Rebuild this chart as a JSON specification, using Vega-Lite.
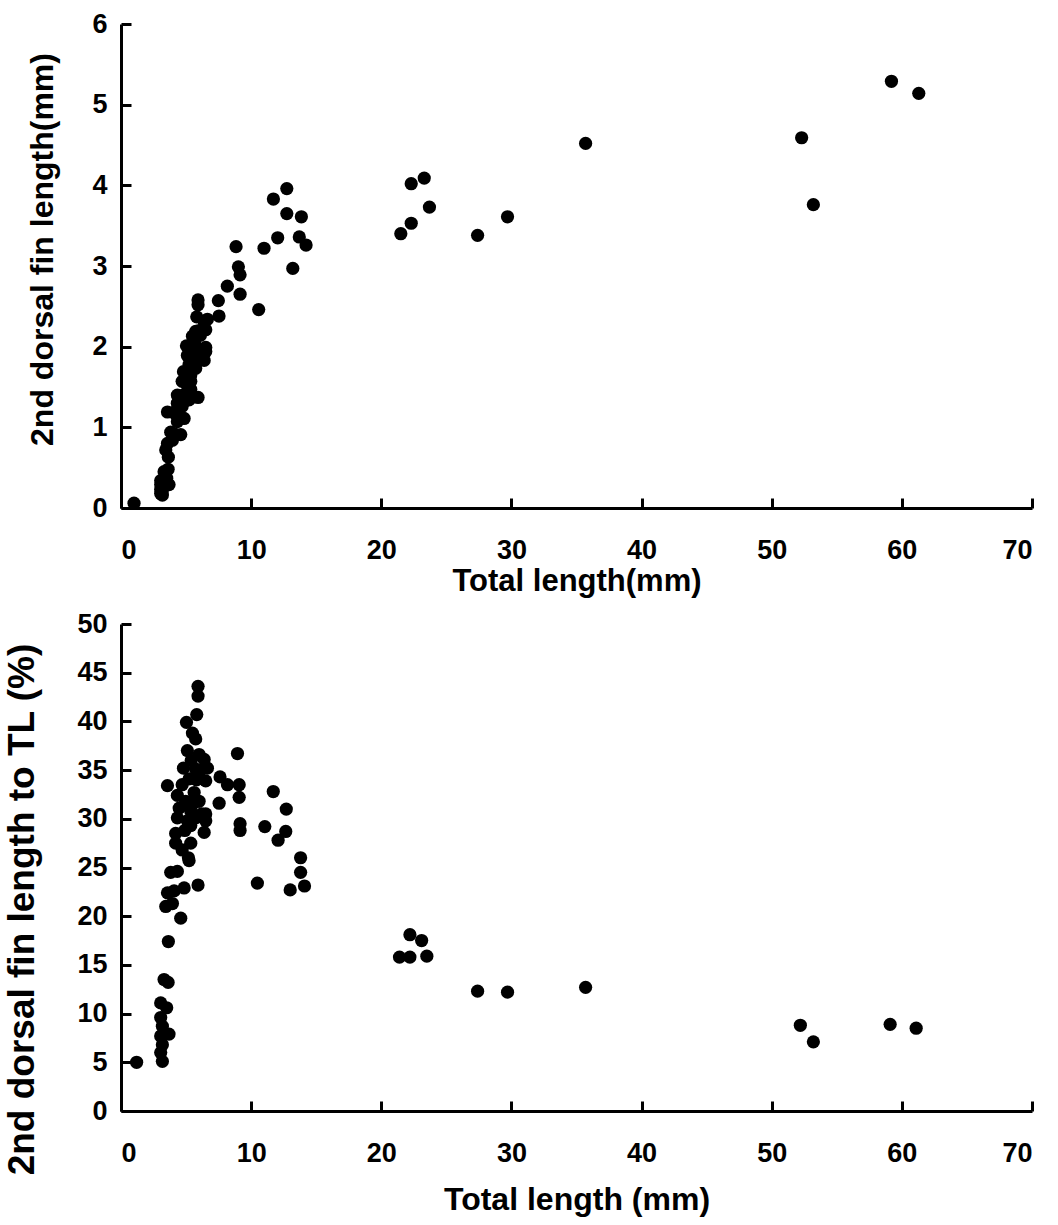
{
  "$schema": "https://vega.github.io/schema/vega-lite/v6.json",
  "background": "white",
  "padding": {"left": 3, "top": 10, "right": 5, "bottom": 5},
  "bounds": "flush",
  "spacing": 116,
  "config": {
    "view": {"stroke": null},
    "font": "Liberation Sans",
    "axis": {
      "grid": false,
      "domainColor": "black",
      "domainWidth": 3,
      "tickColor": "black",
      "tickWidth": 3,
      "tickSize": -10,
      "labelFont": "Liberation Sans",
      "labelFontWeight": "bold",
      "labelFontSize": 27,
      "labelColor": "black",
      "titleFont": "Liberation Sans",
      "titleFontWeight": "bold",
      "titleColor": "black"
    }
  },
  "datasets": {
    "top": [
      {"TL": 1.0, "fin": 0.06},
      {"TL": 3.18, "fin": 0.16}, {"TL": 3.05, "fin": 0.18}, {"TL": 3.18, "fin": 0.22}, {"TL": 3.05, "fin": 0.23},
      {"TL": 3.69, "fin": 0.29}, {"TL": 3.18, "fin": 0.28}, {"TL": 3.05, "fin": 0.29}, {"TL": 3.51, "fin": 0.37},
      {"TL": 3.05, "fin": 0.34}, {"TL": 3.31, "fin": 0.45}, {"TL": 3.62, "fin": 0.48}, {"TL": 3.64, "fin": 0.63},
      {"TL": 4.59, "fin": 0.91}, {"TL": 3.44, "fin": 0.72}, {"TL": 3.95, "fin": 0.84}, {"TL": 3.57, "fin": 0.8},
      {"TL": 4.08, "fin": 0.92}, {"TL": 4.85, "fin": 1.11}, {"TL": 5.92, "fin": 1.37}, {"TL": 3.82, "fin": 0.94},
      {"TL": 4.33, "fin": 1.07}, {"TL": 5.23, "fin": 1.34}, {"TL": 5.92, "fin": 2.58}, {"TL": 5.92, "fin": 2.52},
      {"TL": 5.82, "fin": 2.37}, {"TL": 5.03, "fin": 2.01}, {"TL": 5.49, "fin": 2.13}, {"TL": 5.74, "fin": 2.19},
      {"TL": 5.1, "fin": 1.89}, {"TL": 6.0, "fin": 2.2}, {"TL": 6.39, "fin": 2.31}, {"TL": 4.8, "fin": 1.69},
      {"TL": 5.74, "fin": 2.01}, {"TL": 6.64, "fin": 2.34}, {"TL": 3.57, "fin": 1.19}, {"TL": 5.23, "fin": 1.78},
      {"TL": 6.51, "fin": 2.21}, {"TL": 4.33, "fin": 1.4}, {"TL": 5.62, "fin": 1.84}, {"TL": 4.97, "fin": 1.58},
      {"TL": 6.0, "fin": 1.91}, {"TL": 4.47, "fin": 1.39}, {"TL": 5.36, "fin": 1.65}, {"TL": 6.51, "fin": 1.99},
      {"TL": 4.33, "fin": 1.3}, {"TL": 5.74, "fin": 1.73}, {"TL": 6.51, "fin": 1.94}, {"TL": 6.39, "fin": 1.83},
      {"TL": 4.2, "fin": 1.2}, {"TL": 5.36, "fin": 1.57}, {"TL": 4.2, "fin": 1.16}, {"TL": 5.36, "fin": 1.47},
      {"TL": 5.18, "fin": 1.35}, {"TL": 4.7, "fin": 1.26}, {"TL": 4.9, "fin": 1.41}, {"TL": 5.5, "fin": 1.73},
      {"TL": 5.8, "fin": 1.97}, {"TL": 5.4, "fin": 1.94}, {"TL": 4.7, "fin": 1.57}, {"TL": 6.1, "fin": 2.14},
      {"TL": 5.1, "fin": 1.52}, {"TL": 6.2, "fin": 1.89},
      {"TL": 7.48, "fin": 2.57}, {"TL": 7.53, "fin": 2.38}, {"TL": 8.17, "fin": 2.75}, {"TL": 8.84, "fin": 3.24},
      {"TL": 9.02, "fin": 2.99}, {"TL": 9.15, "fin": 2.89}, {"TL": 9.15, "fin": 2.65}, {"TL": 10.58, "fin": 2.46},
      {"TL": 10.99, "fin": 3.22}, {"TL": 11.71, "fin": 3.83}, {"TL": 12.04, "fin": 3.35}, {"TL": 12.74, "fin": 3.96},
      {"TL": 12.74, "fin": 3.65}, {"TL": 13.2, "fin": 2.97}, {"TL": 13.7, "fin": 3.36}, {"TL": 13.86, "fin": 3.61},
      {"TL": 14.22, "fin": 3.26}, {"TL": 21.5, "fin": 3.4}, {"TL": 22.3, "fin": 3.53}, {"TL": 22.3, "fin": 4.02},
      {"TL": 23.3, "fin": 4.09}, {"TL": 23.7, "fin": 3.73}, {"TL": 27.4, "fin": 3.38}, {"TL": 29.7, "fin": 3.61},
      {"TL": 35.7, "fin": 4.52}, {"TL": 52.3, "fin": 4.59}, {"TL": 53.2, "fin": 3.76}, {"TL": 59.2, "fin": 5.29},
      {"TL": 61.3, "fin": 5.14}
    ],
    "bottom": [
      {"TL": 1.2, "pct": 5.0}, {"TL": 3.18, "pct": 5.1}, {"TL": 3.05, "pct": 6.0}, {"TL": 3.18, "pct": 6.8},
      {"TL": 3.05, "pct": 7.7}, {"TL": 3.69, "pct": 7.9}, {"TL": 3.18, "pct": 8.7}, {"TL": 3.05, "pct": 9.6},
      {"TL": 3.51, "pct": 10.6}, {"TL": 3.05, "pct": 11.1}, {"TL": 3.31, "pct": 13.5}, {"TL": 3.62, "pct": 13.2},
      {"TL": 3.64, "pct": 17.4}, {"TL": 4.59, "pct": 19.8}, {"TL": 3.44, "pct": 21.0}, {"TL": 3.95, "pct": 21.3},
      {"TL": 3.57, "pct": 22.4}, {"TL": 4.08, "pct": 22.6}, {"TL": 4.85, "pct": 22.9}, {"TL": 5.92, "pct": 23.2},
      {"TL": 3.82, "pct": 24.5}, {"TL": 4.33, "pct": 24.6}, {"TL": 5.23, "pct": 25.7}, {"TL": 10.48, "pct": 23.4},
      {"TL": 13.0, "pct": 22.7}, {"TL": 13.8, "pct": 24.5}, {"TL": 14.1, "pct": 23.1}, {"TL": 5.92, "pct": 43.6},
      {"TL": 5.92, "pct": 42.6}, {"TL": 5.82, "pct": 40.7}, {"TL": 5.03, "pct": 39.9}, {"TL": 5.49, "pct": 38.8},
      {"TL": 5.74, "pct": 38.2}, {"TL": 5.1, "pct": 37.0}, {"TL": 6.0, "pct": 36.6}, {"TL": 6.39, "pct": 36.1},
      {"TL": 4.8, "pct": 35.2}, {"TL": 5.74, "pct": 35.1}, {"TL": 6.64, "pct": 35.2}, {"TL": 8.95, "pct": 36.7},
      {"TL": 3.57, "pct": 33.4}, {"TL": 5.23, "pct": 34.1}, {"TL": 6.51, "pct": 33.9}, {"TL": 7.61, "pct": 34.3},
      {"TL": 8.18, "pct": 33.5}, {"TL": 9.08, "pct": 33.5}, {"TL": 4.33, "pct": 32.4}, {"TL": 5.62, "pct": 32.7},
      {"TL": 4.97, "pct": 31.8}, {"TL": 6.0, "pct": 31.8}, {"TL": 9.08, "pct": 32.2}, {"TL": 7.54, "pct": 31.6},
      {"TL": 11.7, "pct": 32.8}, {"TL": 4.47, "pct": 31.1}, {"TL": 5.36, "pct": 30.8}, {"TL": 6.51, "pct": 30.5},
      {"TL": 12.7, "pct": 31.0}, {"TL": 4.33, "pct": 30.1}, {"TL": 5.74, "pct": 30.1}, {"TL": 6.51, "pct": 29.8},
      {"TL": 9.15, "pct": 29.5}, {"TL": 9.15, "pct": 28.8}, {"TL": 11.05, "pct": 29.2}, {"TL": 12.66, "pct": 28.7},
      {"TL": 6.39, "pct": 28.6}, {"TL": 4.2, "pct": 28.5}, {"TL": 5.36, "pct": 29.3}, {"TL": 4.2, "pct": 27.5},
      {"TL": 5.36, "pct": 27.5}, {"TL": 12.07, "pct": 27.8}, {"TL": 5.18, "pct": 26.0}, {"TL": 13.8, "pct": 26.0},
      {"TL": 4.7, "pct": 26.8}, {"TL": 4.9, "pct": 28.8}, {"TL": 5.5, "pct": 31.5}, {"TL": 5.8, "pct": 34.0},
      {"TL": 5.4, "pct": 36.0}, {"TL": 4.7, "pct": 33.5}, {"TL": 6.1, "pct": 35.0}, {"TL": 5.1, "pct": 29.8},
      {"TL": 6.2, "pct": 30.5},
      {"TL": 21.4, "pct": 15.8}, {"TL": 22.2, "pct": 15.8}, {"TL": 22.2, "pct": 18.1}, {"TL": 23.1, "pct": 17.5},
      {"TL": 23.5, "pct": 15.9}, {"TL": 27.4, "pct": 12.3}, {"TL": 29.7, "pct": 12.2}, {"TL": 35.7, "pct": 12.7},
      {"TL": 52.2, "pct": 8.8}, {"TL": 53.2, "pct": 7.1}, {"TL": 59.1, "pct": 8.9}, {"TL": 61.1, "pct": 8.5}
    ]
  },
  "vconcat": [
    {
      "width": 911,
      "height": 484,
      "data": {"name": "top"},
      "mark": {"type": "circle", "size": 175, "color": "black", "opacity": 1},
      "encoding": {
        "x": {
          "field": "TL", "type": "quantitative",
          "scale": {"domain": [0, 70], "nice": false, "zero": true},
          "axis": {"title": "Total length(mm)", "values": [0, 10, 20, 30, 40, 50, 60, 70], "labelPadding": 39,
                   "titleFontSize": 31, "titleY": 73, "titleBaseline": "middle"}
        },
        "y": {
          "field": "fin", "type": "quantitative",
          "scale": {"domain": [0, 6], "nice": false},
          "axis": {"title": "2nd dorsal fin length(mm)", "values": [0, 1, 2, 3, 4, 5, 6], "labelPadding": 24,
                   "titleFontSize": 32, "titleX": -79, "titleY": 225, "titleBaseline": "middle"}
        }
      }
    },
    {
      "width": 911,
      "height": 487,
      "data": {"name": "bottom"},
      "mark": {"type": "circle", "size": 175, "color": "black", "opacity": 1},
      "encoding": {
        "x": {
          "field": "TL", "type": "quantitative",
          "scale": {"domain": [0, 70], "nice": false, "zero": true},
          "axis": {"title": "Total length (mm)", "values": [0, 10, 20, 30, 40, 50, 60, 70], "labelPadding": 39,
                   "titleFontSize": 32, "titleY": 88, "titleBaseline": "middle"}
        },
        "y": {
          "field": "pct", "type": "quantitative",
          "scale": {"domain": [0, 50], "nice": false},
          "axis": {"title": "2nd dorsal fin length to TL (%)", "values": [0, 5, 10, 15, 20, 25, 30, 35, 40, 45, 50], "labelPadding": 24,
                   "titleFontSize": 37, "titleX": -99, "titleY": 285, "titleBaseline": "middle"}
        }
      }
    }
  ]
}
